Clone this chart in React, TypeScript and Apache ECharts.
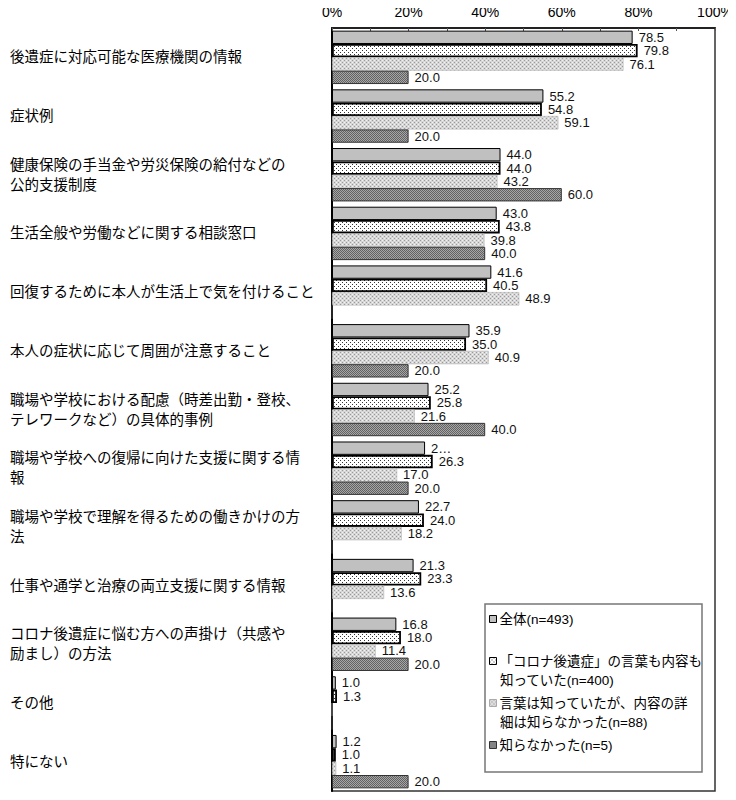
import React, { useEffect, useRef } from "react";
import * as echarts from "echarts";

const categories = [
  "後遺症に対応可能な医療機関の情報",
  "症状例",
  "健康保険の手当金や労災保険の給付などの\n公的支援制度",
  "生活全般や労働などに関する相談窓口",
  "回復するために本人が生活上で気を付けること",
  "本人の症状に応じて周囲が注意すること",
  "職場や学校における配慮（時差出勤・登校、\nテレワークなど）の具体的事例",
  "職場や学校への復帰に向けた支援に関する情\n報",
  "職場や学校で理解を得るための働きかけの方\n法",
  "仕事や通学と治療の両立支援に関する情報",
  "コロナ後遺症に悩む方への声掛け（共感や\n励まし）の方法",
  "その他",
  "特にない",
];

const legendLines = [
  ["全体(n=493)"],
  ["「コロナ後遺症」の言葉も内容も", "知っていた(n=400)"],
  ["言葉は知っていたが、内容の詳", "細は知らなかった(n=88)"],
  ["知らなかった(n=5)"],
];

const valuesAll = [78.5, 55.2, 44.0, 43.0, 41.6, 35.9, 25.2, 24.3, 22.7, 21.3, 16.8, 1.0, 1.2];
const valuesKnewBoth = [79.8, 54.8, 44.0, 43.8, 40.5, 35.0, 25.8, 26.3, 24.0, 23.3, 18.0, 1.3, 1.0];
const valuesKnewWord = [76.1, 59.1, 43.2, 39.8, 48.9, 40.9, 21.6, 17.0, 18.2, 13.6, 11.4, 0, 1.1];
const valuesDidNotKnow = [20.0, 20.0, 60.0, 40.0, 0, 20.0, 40.0, 20.0, 0, 0, 20.0, 0, 20.0];

// label shown truncated in the reference
const truncatedLabels = [{ series: 0, index: 7, text: "2…" }];

const xTicks = [0, 20, 40, 60, 80, 100];

const FONT = "'Liberation Sans', 'Noto Sans CJK JP', sans-serif";

function makePattern(size: number, bg: string, dots: Array<[number, number, string]>) {
  const c = document.createElement("canvas");
  c.width = size;
  c.height = size;
  const ctx = c.getContext("2d")!;
  ctx.fillStyle = bg;
  ctx.fillRect(0, 0, size, size);
  for (const [x, y, col] of dots) {
    ctx.fillStyle = col;
    ctx.fillRect(x, y, 1, 1);
  }
  return {
    image: c.toDataURL(),
    imageWidth: size,
    imageHeight: size,
    repeat: "repeat",
  } as any;
}

export default function App() {
  const ref = useRef<HTMLDivElement>(null);
  useEffect(() => {
    if (!ref.current) return;
    const chart = echarts.init(ref.current, null, { renderer: "svg" });

    const pDots = makePattern(4, "#ffffff", [
      [0, 0, "#333"],
      [2, 2, "#333"],
    ]);
    const pLight = makePattern(4, "#d6d6d6", [
      [0, 0, "#9a9a9a"],
      [2, 2, "#9a9a9a"],
      [2, 0, "#f2f2f2"],
      [0, 2, "#f2f2f2"],
    ]);
    const pDark = makePattern(2, "#8a8a8a", [
      [0, 0, "#626262"],
      [1, 1, "#626262"],
      [1, 0, "#a6a6a6"],
      [0, 1, "#a6a6a6"],
    ]);

    const allValues = [valuesAll, valuesKnewBoth, valuesKnewWord, valuesDidNotKnow];
    const styles = [
      { color: "#c0c0c0", borderColor: "#000", borderWidth: 1 },
      { color: pDots, borderColor: "#000", borderWidth: 1.8 },
      { color: pLight, borderColor: "#aaa", borderWidth: 0.5 },
      { color: pDark, borderColor: "#333", borderWidth: 1 },
    ];

    const series = allValues.map((vals, si) => ({
      type: "bar",
      name: legendLines[si].join(""),
      barGap: "0%",
      barCategoryGap: "9%",
      itemStyle: styles[si],
      label: {
        show: true,
        position: "right",
        distance: 6,
        color: "#111",
        fontSize: 13,
        lineHeight: 12,
        fontFamily: FONT,
        formatter: (p: any) => {
          const t = truncatedLabels.find((d) => d.series === si && d.index === p.dataIndex);
          if (t) return t.text;
          return p.value === 0 ? "" : Number(p.value).toFixed(1);
        },
      },
      data: vals,
    }));

    const option: any = {
      animation: false,
      backgroundColor: "#fff",
      grid: {
        left: 332,
        right: 21,
        top: 28,
        bottom: 9,
        show: true,
        borderColor: "#333",
        borderWidth: 1.5,
        backgroundColor: "transparent",
      },
      xAxis: {
        type: "value",
        position: "top",
        min: 0,
        max: 100,
        interval: 10,
        axisLine: { show: true, lineStyle: { color: "#222", width: 2 } },
        axisTick: { show: true, inside: true, length: 3, lineStyle: { color: "#555" } },
        splitLine: { show: false },
        axisLabel: {
          margin: 9,
          color: "#000",
          fontSize: 14,
          fontFamily: FONT,
          formatter: (v: number) => (xTicks.includes(v) ? v + "%" : ""),
        },
      },
      yAxis: {
        type: "category",
        inverse: true,
        data: categories,
        axisLine: { show: true, lineStyle: { color: "#000", width: 2 } },
        axisTick: { show: false },
        axisLabel: {
          align: "left",
          margin: 322,
          color: "#000",
          fontSize: 14.5,
          lineHeight: 20,
          fontFamily: FONT,
        },
      },
      legend: {
        orient: "vertical",
        left: 489,
        top: 611,
        padding: 0,
        itemGap: 26,
        itemWidth: 7,
        itemHeight: 7,
        icon: "rect",
        z: 10,
        selectedMode: false,
        itemStyle: { borderWidth: 1 },
        textStyle: {
          color: "#000",
          fontSize: 13.5,
          lineHeight: 16,
          fontFamily: FONT,
          padding: [0, 0, 0, -2],
        },
        formatter: (name: string) => {
          const idx = legendLines.findIndex((l) => l.join("") === name);
          return idx >= 0 ? legendLines[idx][0] : name;
        },
        data: legendLines.map((l) => l.join("")),
      },
      graphic: [
        {
          type: "rect",
          z: 5,
          shape: { x: 485, y: 604, width: 217, height: 168 },
          style: { fill: "#fff", stroke: "#777", lineWidth: 1.5 },
        },
        ...legendLines
          .map((l, i) => ({ l, i }))
          .filter(({ l }) => l.length > 1)
          .map(({ l, i }) => ({
            type: "text",
            z: 11,
            x: 500,
            y: 619 + i * 42 + 19,
            style: {
              text: l[1],
              fill: "#000",
              fontSize: 13.5,
              fontFamily: FONT,
              verticalAlign: "middle",
              align: "left",
            },
          })),
      ],
      series,
    };

    chart.setOption(option);
    return () => chart.dispose();
  }, []);

  return <div ref={ref} style={{ width: 736, height: 800, margin: -8 }} />;
}
